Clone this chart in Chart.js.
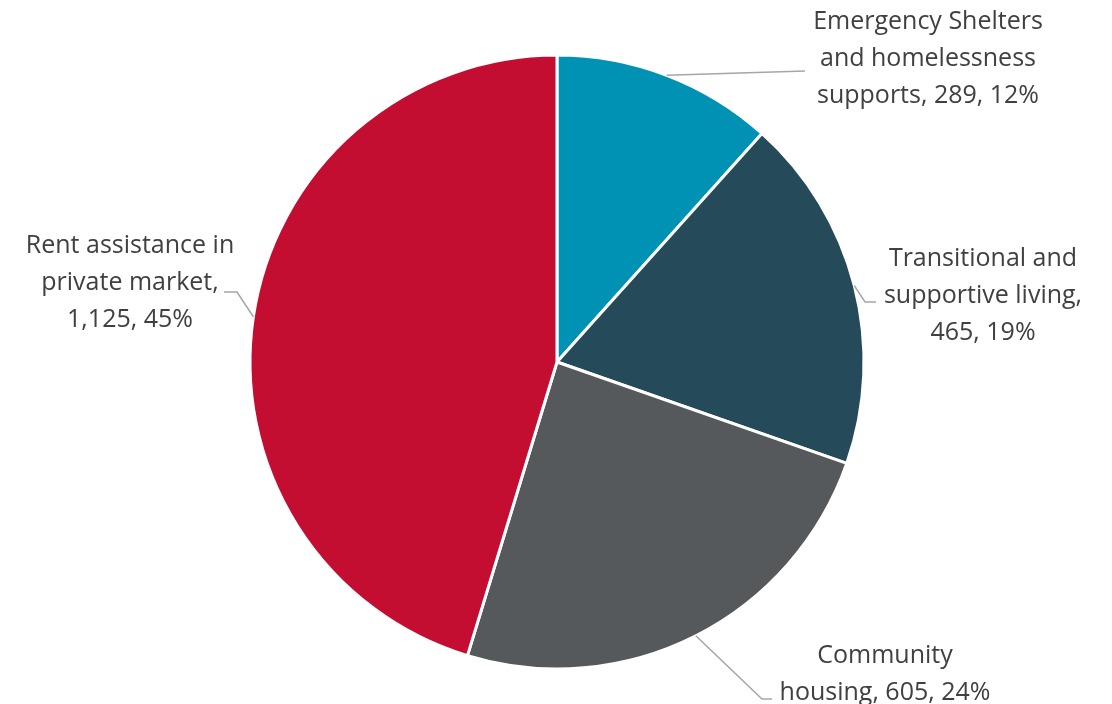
<!DOCTYPE html>
<html>
<head>
<meta charset="utf-8">
<script src="https://cdn.jsdelivr.net/npm/chart.js@4/dist/chart.umd.min.js"></script>
<style>
  html, body { margin: 0; padding: 0; background: #ffffff; }
  #wrap { width: 1112px; height: 704px; position: relative; }
</style>
</head>
<body>
<div id="wrap"><canvas id="c" width="1112" height="704"></canvas></div>
<script>
// Housing support spending by program type
const categories = [
  'Emergency Shelters and homelessness supports',
  'Transitional and supportive living',
  'Community housing',
  'Rent assistance in private market'
];
const values = [289, 465, 605, 1125];
const colors = ['#0092B4', '#254B5B', '#56595C', '#C30D31'];

const total = values.reduce((a, b) => a + b, 0);

// Label placement: centre x of the text block, centre y of its first line,
// word counts after which a line breaks, and the bend / end points of each leader.
const labelLayout = [
  { cx: 928, y0: 22, breaks: [2, 4], bend: [805, 71], end: [805, 71] },
  { cx: 983, y0: 259, breaks: [2, 4], bend: [865, 302], end: [876, 302] },
  { cx: 885, y0: 656, breaks: [1], bend: [762, 699], end: [772, 699] },
  { cx: 130, y0: 246, breaks: [3, 5], bend: [237, 292], end: [224, 292] }
];
const FONT = '25px "Open Sans", sans-serif';
const LINE_H = 36.8;

function splitLines(text, breaks) {
  const words = text.split(' ');
  const lines = [];
  let start = 0;
  breaks.concat([words.length]).forEach(b => {
    lines.push(words.slice(start, b).join(' '));
    start = b;
  });
  return lines;
}

const sliceLabels = {
  id: 'sliceLabels',
  afterDraw(chart) {
    const ctx = chart.ctx;
    const meta = chart.getDatasetMeta(0);
    ctx.save();
    meta.data.forEach((arc, i) => {
      const p = arc.getProps(['x', 'y', 'startAngle', 'endAngle', 'outerRadius'], true);
      const mid = (p.startAngle + p.endAngle) / 2;
      const sx = p.x + Math.cos(mid) * p.outerRadius;
      const sy = p.y + Math.sin(mid) * p.outerRadius;
      const L = labelLayout[i];
      ctx.strokeStyle = '#A6A6A6';
      ctx.lineWidth = 1.5;
      ctx.beginPath();
      ctx.moveTo(sx, sy);
      ctx.lineTo(L.bend[0], L.bend[1]);
      ctx.lineTo(L.end[0], L.end[1]);
      ctx.stroke();

      const pct = Math.round(values[i] / total * 100);
      const text = categories[i] + ', ' + values[i].toLocaleString('en-US') + ', ' + pct + '%';
      ctx.font = FONT;
      ctx.fillStyle = '#404040';
      ctx.textAlign = 'center';
      ctx.textBaseline = 'middle';
      splitLines(text, L.breaks).forEach((ln, k) => ctx.fillText(ln, L.cx, L.y0 + k * LINE_H));
    });
    ctx.restore();
  }
};

new Chart(document.getElementById('c'), {
  type: 'pie',
  data: {
    labels: categories,
    datasets: [{
      data: values,
      backgroundColor: colors,
      borderColor: '#ffffff',
      borderWidth: 3
    }]
  },
  options: {
    responsive: false,
    animation: false,
    radius: 307,
    layout: { padding: { left: 2, right: 0, top: 20, bottom: 0 } },
    plugins: {
      legend: { display: false },
      tooltip: { enabled: false }
    }
  },
  plugins: [sliceLabels]
});
</script>
</body>
</html>
